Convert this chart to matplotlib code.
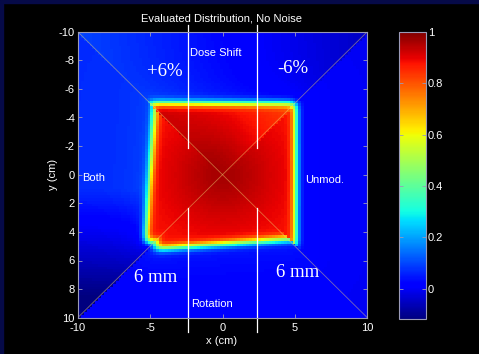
import math
import numpy as np
import matplotlib
matplotlib.use("Agg")
import matplotlib.pyplot as plt
from matplotlib.patches import Rectangle

# ---------------- chart data ----------------
title = "Evaluated Distribution, No Noise"
x_label = "x (cm)"
y_label = "y (cm)"
x_ticks = [-10, -5, 0, 5, 10]
y_ticks = [-10, -8, -6, -4, -2, 0, 2, 4, 6, 8, 10]
cbar_ticks = [0, 0.2, 0.4, 0.6, 0.8, 1.0]
cbar_labels = ["0", "0.2", "0.4", "0.6", "0.8", "1"]
value_min, value_max = -0.117, 1.0

extent_cm = 10.0
pixel_cm = 0.2
field_half_cm = 5.0
penumbra_sigma_cm = 0.28
field_edge_dose = 0.875
field_center_boost = 0.085
field_center_width_cm = 2.6
tail_amp = 0.035
tail_len_cm = 1.3

# per-quadrant geometric modification (rotation in degrees, shift in cm)
quad_rotation_deg = {"top": 0.0, "right": 0.0, "bottom": -4.3, "left": 4.0}
quad_shift_cm = {"top": (0.0, 0.0), "right": (0.0, 0.0),
                 "bottom": (0.0, -0.2), "left": (0.0, 0.0)}
dose_shift_pct = 6.0

# background levels
bg_top_center = 0.025
bg_top_slope = -0.0075
bg_right = 0.0
bg_bottom = 0.02
bg_left = 0.07
bg_left_lower_start = 1.0
bg_left_lower_slope = -0.025

guide_x = [-2.4, 2.4]
guide_upper_y = (-10.47, -1.87)
guide_lower_y = (2.33, 11.0)

labels_sans = [("Dose Shift", -0.45, -8.3, "center"),
               ("Rotation", -0.75, 9.27, "center"),
               ("Both", -9.72, 0.42, "left"),
               ("Unmod.", 5.74, 0.58, "left")]
labels_serif = [("+6%", -4.0, -6.92), ("-6%", 4.83, -7.09),
                ("6 mm", -4.6, 7.52), ("6 mm", 5.18, 7.17)]

# ---------------- build the image ----------------
erf = np.vectorize(math.erf)
centers = np.arange(-extent_cm + pixel_cm / 2, extent_cm, pixel_cm)
X, Y = np.meshgrid(centers, centers)

masks = {
    "top": Y <= -np.abs(X),
    "bottom": Y >= np.abs(X),
}
masks["left"] = (X < -np.abs(Y)) & ~masks["top"] & ~masks["bottom"]
masks["right"] = (X > np.abs(Y)) & ~masks["top"] & ~masks["bottom"]

bg = {
    "top": bg_top_center + bg_top_slope * X,
    "right": np.full_like(X, bg_right),
    "bottom": np.full_like(X, bg_bottom),
    "left": bg_left + bg_left_lower_slope * np.maximum(Y - bg_left_lower_start, 0),
}
mult = {
    "top": np.clip(-dose_shift_pct / 100 * X / field_half_cm,
                   -dose_shift_pct / 100, dose_shift_pct / 100),
    "right": 0.0, "bottom": 0.0, "left": 0.0,
}

img = np.zeros_like(X)
s2 = math.sqrt(2) * penumbra_sigma_cm
for q, m in masks.items():
    th = math.radians(quad_rotation_deg[q])
    sx, sy = quad_shift_cm[q]
    u = math.cos(th) * (X - sx) + math.sin(th) * (Y - sy)
    v = -math.sin(th) * (X - sx) + math.cos(th) * (Y - sy)
    pu = 0.5 * (erf((field_half_cm - u) / s2) + erf((field_half_cm + u) / s2))
    pv = 0.5 * (erf((field_half_cm - v) / s2) + erf((field_half_cm + v) / s2))
    core = pu * pv
    level = field_edge_dose + field_center_boost * np.exp(
        -(u ** 2 + v ** 2) / (2 * field_center_width_cm ** 2))
    dout = np.sqrt(np.maximum(np.abs(u) - field_half_cm, 0) ** 2 +
                   np.maximum(np.abs(v) - field_half_cm, 0) ** 2)
    tail = tail_amp * np.exp(-dout / tail_len_cm) * (1 - core)
    val = core * level * (1 + mult[q]) + tail + (1 - core) * bg[q]
    img[m] = val[m]

# ---------------- draw ----------------
W, H = 479, 354
fig = plt.figure(figsize=(W / 100, H / 100), dpi=100, facecolor="black")
navy = "#060a48"
fig.patches.append(Rectangle((0, 1 - 3 / H), 1, 3 / H, transform=fig.transFigure,
                             color=navy, zorder=0))
fig.patches.append(Rectangle((0, 0), 3 / W, 1, transform=fig.transFigure,
                             color=navy, zorder=0))

ax = fig.add_axes([77.7 / W, 1 - 317.7 / H, (367.3 - 77.7) / W, (317.7 - 31.7) / H])
ax.set_facecolor("black")
im = ax.imshow(img, cmap="jet", vmin=value_min, vmax=value_max,
               extent=[-extent_cm, extent_cm, extent_cm, -extent_cm],
               interpolation="nearest", aspect="auto")

line_kw = dict(color="#f0d070", alpha=0.5, lw=0.6)
ax.plot([-extent_cm, extent_cm], [-extent_cm, extent_cm], **line_kw)
ax.plot([-extent_cm, extent_cm], [extent_cm, -extent_cm], **line_kw)

for gx in guide_x:
    ax.plot([gx, gx], guide_upper_y, color="white", lw=0.9, clip_on=False)
    ax.plot([gx, gx], guide_lower_y, color="white", lw=0.9, clip_on=False)

ax.set_xlim(-extent_cm, extent_cm)
ax.set_ylim(extent_cm, -extent_cm)
ax.set_xticks(x_ticks)
ax.set_yticks(y_ticks)
ax.set_xticklabels([str(t) for t in x_ticks])
ax.set_yticklabels([str(t) for t in y_ticks])
spine_col = "#9a9ab8"
for sp in ax.spines.values():
    sp.set_color(spine_col)
    sp.set_linewidth(0.8)
ax.tick_params(direction="in", top=True, right=True, length=3, width=0.6,
               color=spine_col, labelcolor="white", labelsize=8)
ax.tick_params(axis="x", pad=4)
ax.tick_params(axis="y", pad=2)
for lab in ax.get_xticklabels() + ax.get_yticklabels():
    lab.set_family("Liberation Sans")

for txt, x, y, ha in labels_sans:
    ax.text(x, y, txt, color="white", fontsize=8, family="Liberation Sans",
            ha=ha, va="baseline")
for txt, x, y in labels_serif:
    ax.text(x, y, txt, color="white", fontsize=13.5, family="Liberation Serif",
            ha="center", va="baseline")

fig.text(221.8 / W, 1 - 21.3 / H, title, color="white", fontsize=8,
         family="Liberation Sans", ha="center", va="baseline")
fig.text(221.7 / W, 10 / H, x_label, color="white", fontsize=8,
         family="Liberation Sans", ha="center", va="baseline")
fig.text(52.5 / W, 1 - 174.7 / H, y_label, color="white", fontsize=8,
         family="Liberation Sans", ha="center", va="center", rotation=90)

cax = fig.add_axes([399 / W, 1 - 319 / H, 27 / W, (319 - 31.7) / H])
cb = fig.colorbar(im, cax=cax)
cb.set_ticks(cbar_ticks)
cb.set_ticklabels(cbar_labels)
cb.outline.set_edgecolor(spine_col)
cb.outline.set_linewidth(0.8)
cax.tick_params(direction="in", left=True, right=True, length=3, width=0.6,
                color=spine_col, labelcolor="white", labelsize=8, pad=1.5)
for lab in cax.get_yticklabels():
    lab.set_family("Liberation Sans")

fig.savefig("out.png", dpi=100, facecolor="black")
